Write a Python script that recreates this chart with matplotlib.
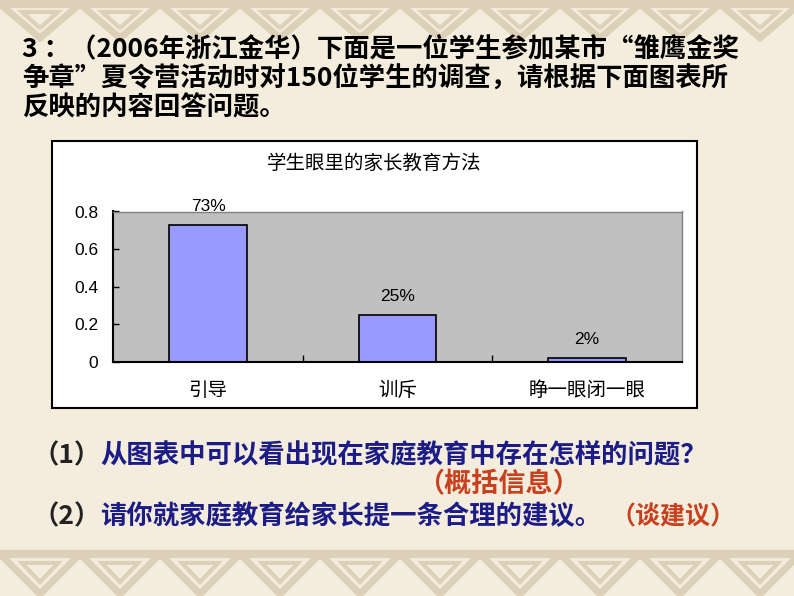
import matplotlib
matplotlib.use('Agg')
import matplotlib.pyplot as plt
from matplotlib.patches import Rectangle, Polygon

plt.rcParams['font.family'] = ['Noto Sans CJK SC', 'DejaVu Sans']

# data
categories = ['引导', '训斥', '睁一眼闭一眼']
values = [0.73, 0.25, 0.02]
chart_title = '学生眼里的家长教育方法'

title_lines = [
    '3 ：（2006年浙江金华）下面是一位学生参加某市“雏鹰金奖',
    '争章”夏令营活动时对150位学生的调查，请根据下面图表所',
    '反映的内容回答问题。',
]
q1 = ('（1）', '从图表中可以看出现在家庭教育中存在怎样的问题？')
hint1 = '（概括信息）'
q2 = ('（2）', '请你就家庭教育给家长提一条合理的建议。')
hint2 = '（谈建议）'

W, H = 794, 596
BG = '#f4eddd'
PATTERN = '#dcd1b8'
BLUE = '#1c1c86'
RED = '#c8401e'

fig = plt.figure(figsize=(W / 100, H / 100), dpi=100)
fig.patch.set_facecolor(BG)

# background axes in pixel coordinates
bg = fig.add_axes([0, 0, 1, 1])
bg.set_xlim(0, W)
bg.set_ylim(H, 0)
bg.axis('off')
bg.set_zorder(0)

# decorative bands top and bottom
for x0 in range(-80, W + 80, 80):
    bg.add_patch(Polygon([(x0, 4), (x0 + 80, 4), (x0 + 40, 38)], closed=True,
                         fill=False, ec=PATTERN, lw=5))
    bg.add_patch(Polygon([(x0 + 22, 12), (x0 + 58, 12), (x0 + 40, 28)], closed=True,
                         fill=False, ec=PATTERN, lw=3))
    bg.add_patch(Polygon([(x0, H - 42), (x0 + 80, H - 42), (x0 + 40, H - 2)], closed=True,
                         fill=False, ec=PATTERN, lw=5))
    bg.add_patch(Polygon([(x0 + 22, H - 33), (x0 + 58, H - 33), (x0 + 40, H - 14)], closed=True,
                         fill=False, ec=PATTERN, lw=3))
bg.plot([0, W], [H - 42, H - 42], color=PATTERN, lw=6)
bg.plot([0, W], [4, 4], color=PATTERN, lw=6)

# slide text
for line, y in zip(title_lines, [50, 79, 108]):
    bg.text(22, y, line, fontsize=19, fontweight='bold', color='black',
            ha='left', va='center')

t1 = bg.text(32, 456, q1[0], fontsize=19, fontweight='bold', color='#222222',
             ha='left', va='center')
bg.annotate(q1[1], xy=(1, 0.5), xycoords=t1, fontsize=19, fontweight='bold',
            color=BLUE, ha='left', va='center')
bg.text(498, 484, hint1, fontsize=19.5, fontweight='bold', color=RED,
        ha='center', va='center')
t2 = bg.text(32, 517, q2[0], fontsize=19, fontweight='bold', color='#222222',
             ha='left', va='center')
bg.annotate(q2[1], xy=(1, 0.5), xycoords=t2, fontsize=19, fontweight='bold',
            color=BLUE, ha='left', va='center')
bg.text(610, 517, hint2, fontsize=18, fontweight='bold', color=RED,
        ha='left', va='center')

# chart frame
bg.add_patch(Rectangle((52, 141), 645, 267, fc='white', ec='black', lw=1.5))
bg.text(374, 163, chart_title, fontsize=14, color='black', ha='center', va='center')

# chart axes
x0, x1, y_top, y_bot = 113.3, 681.7, 211.5, 361.7
ax = fig.add_axes([x0 / W, 1 - y_bot / H, (x1 - x0) / W, (y_bot - y_top) / H])
ax.set_zorder(1)
ax.set_facecolor('#c0c0c0')

pos = list(range(len(categories)))
bars = ax.bar(pos, values, width=0.41, color='#9999ff', edgecolor='black', linewidth=1.2)
for b, v in zip(bars, values):
    ax.annotate(f'{v:.0%}', (b.get_x() + b.get_width() / 2, v), xytext=(0, 8),
                textcoords='offset points', ha='center', va='bottom',
                fontsize=12.5, family='Liberation Sans')

ax.set_xlim(-0.5, len(categories) - 0.5)
ax.set_ylim(0, 0.8)
ax.set_yticks([0, 0.2, 0.4, 0.6, 0.8])
ax.set_yticklabels(['0', '0.2', '0.4', '0.6', '0.8'], family='Liberation Sans', fontsize=12.5)
ax.tick_params(axis='y', direction='in', length=4, width=1, pad=11)

ax.set_xticks(pos)
ax.set_xticklabels(categories, fontsize=14)
ax.tick_params(axis='x', length=0, pad=13)
ax.set_xticks([0.5, 1.5], minor=True)
ax.tick_params(axis='x', which='minor', direction='in', length=5, width=1)

for s in ['left', 'bottom']:
    ax.spines[s].set_color('black')
    ax.spines[s].set_linewidth(1.5)
for s in ['top', 'right']:
    ax.spines[s].set_color('#808080')
    ax.spines[s].set_linewidth(1)

fig.savefig('out.png', dpi=100, facecolor=fig.get_facecolor())
